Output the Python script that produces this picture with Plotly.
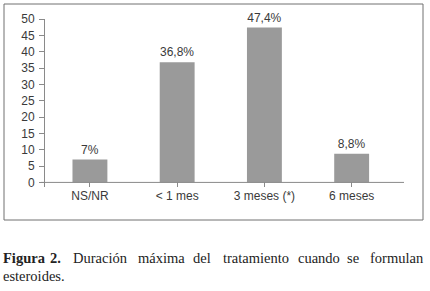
import plotly.graph_objects as go

categories = ["NS/NR", "< 1 mes", "3 meses (*)", "6 meses"]
values = [7.0, 36.8, 47.4, 8.8]
value_labels = ["7%", "36,8%", "47,4%", "8,8%"]
y_ticks = [0, 5, 10, 15, 20, 25, 30, 35, 40, 45, 50]

caption_line1 = ["Figura", "2.", "Duración", "máxima", "del", "tratamiento", "cuando", "se", "formulan"]
caption_line1_bold = [True, True, False, False, False, False, False, False, False]
caption_line1_x = [3, 50, 73, 138, 193, 223, 298, 347, 370]
caption_line2 = "esteroides."

W, H = 430, 291
L, R, T, B = 45, 404, 19, 187  # plot area in pixels

def px(x):
    return (x - L) / (R - L)

def py(y):
    return (B - y) / (B - T)

TEXT = "#3a3a3a"
AXIS = "#8a8a8a"
SERIF = "Liberation Serif, Times New Roman"

fig = go.Figure()
fig.add_trace(go.Bar(
    x=list(range(len(categories))), y=values,
    text=value_labels, textposition="outside", cliponaxis=False,
    textfont=dict(family="Liberation Sans, Arial", size=12, color=TEXT),
    marker=dict(color="#9a9a9a", line=dict(width=0)),
    width=0.4, hoverinfo="skip",
))

fig.update_layout(
    width=W, height=H,
    margin=dict(l=L, r=W - R, t=T, b=H - B, pad=0),
    paper_bgcolor="white", plot_bgcolor="white",
    showlegend=False,
    font=dict(family="Liberation Sans, Arial", size=12, color=TEXT),
    xaxis=dict(
        range=[-0.515, 3.60], tickmode="array",
        tickvals=list(range(len(categories))), ticktext=categories,
        ticks="inside", ticklen=5, tickcolor=AXIS, tickwidth=1,
        showgrid=False, zeroline=False, showline=False, automargin=False,
        tickfont=dict(size=12, color=TEXT), fixedrange=True,
    ),
    yaxis=dict(
        range=[-1.4, 50], tickmode="array", tickvals=y_ticks,
        ticks="outside", ticklen=5, tickcolor=AXIS, tickwidth=1,
        showline=True, linecolor=AXIS, linewidth=1, automargin=False,
        showgrid=False, zeroline=False, ticklabelstandoff=2,
        tickfont=dict(size=12, color=TEXT), fixedrange=True,
    ),
)

# x axis baseline at zero
fig.add_shape(type="line", xref="paper", yref="y",
              x0=px(41), x1=1, y0=0, y1=0,
              line=dict(color=AXIS, width=1))
# outer frame
fig.add_shape(type="rect", xref="paper", yref="paper",
              x0=px(4), x1=px(423), y0=py(220), y1=py(4),
              line=dict(color="#707070", width=1), fillcolor="rgba(0,0,0,0)")

for word, bold, xw in zip(caption_line1, caption_line1_bold, caption_line1_x):
    fig.add_annotation(
        text=f"<b>{word}</b>" if bold else word,
        xref="paper", yref="paper", x=px(xw - 2), y=py(258),
        xanchor="left", yanchor="middle", showarrow=False,
        font=dict(family=SERIF, size=14.5, color="#222222"),
    )
fig.add_annotation(
    text=caption_line2,
    xref="paper", yref="paper", x=px(1), y=py(276),
    xanchor="left", yanchor="middle", showarrow=False,
    font=dict(family=SERIF, size=14.5, color="#222222"),
)

fig.write_html("out.html", config={"displayModeBar": False},
               post_script="document.body.style.margin='0';document.body.style.padding='0';")
